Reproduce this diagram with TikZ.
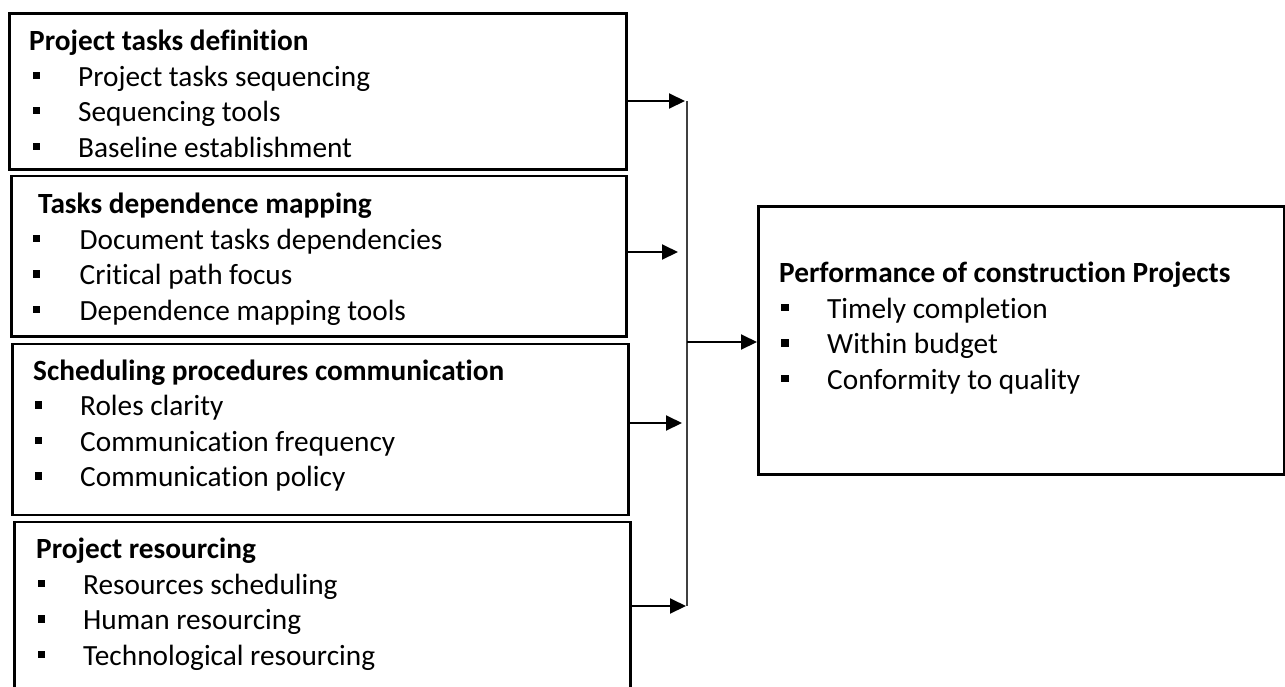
\documentclass[tikz,border=0pt]{standalone}
\usepackage{fontspec}
\setmainfont{Carlito}[Ligatures={NoCommon,NoContextual,NoRequired},RawFeature={-liga;-clig;-calt;-dlig}]
\usetikzlibrary{arrows.meta}
\begin{document}
\begin{tikzpicture}[x=1pt,y=-1pt,
  box/.style={draw=black, line width=2.6pt, anchor=north west, inner sep=0pt},
  hd/.style={anchor=base west, inner sep=0pt, font=\bfseries\fontsize{29.3}{34}\selectfont},
  itm/.style={anchor=base west, inner sep=0pt, font=\fontsize{29.3}{34}\selectfont},
  bul/.style={fill=black, inner sep=0pt, minimum size=7.5pt},
  arr/.style={line width=2pt, -{Triangle[length=16pt,width=15pt]}},
  bus/.style={line width=1.4pt, draw=black!75},
]
\clip (0,0) rectangle (1285,686);
% boxes
\node[box, minimum width=617pt, minimum height=156pt] (B1) at (8,12) {};
\node[box, minimum width=615pt, minimum height=160.5pt] (B2) at (10,174.5) {};
\node[box, minimum width=616pt, minimum height=171pt] (B3) at (11,342.5) {};
\node[box, minimum width=616pt, minimum height=200pt] (B4) at (13,520.5) {};
\node[box, minimum width=526pt, minimum height=268pt] (R) at (757,205) {};
% box 1
\node[hd] (H1) at (29,50) {Project tasks definition};
\node[bul] (b1a) at (36.5,75.5) {};
\node[itm] (I1a) at (78,86) {Project tasks sequencing};
\node[bul] (b1b) at (36.5,110.5) {};
\node[itm] (I1b) at (78,121) {Sequencing tools};
\node[bul] (b1c) at (36.5,146.5) {};
\node[itm] (I1c) at (78,157) {Baseline establishment};
% box 2
\node[hd] (H2) at (38,213) {Tasks dependence mapping};
\node[bul] (b2a) at (36.5,238.5) {};
\node[itm] (I2a) at (79.5,249) {Document tasks dependencies};
\node[bul] (b2b) at (36.5,274) {};
\node[itm] (I2b) at (79.5,284.5) {Critical path focus};
\node[bul] (b2c) at (36.5,309.5) {};
\node[itm] (I2c) at (79.5,320) {Dependence mapping tools};
% box 3
\node[hd] (H3) at (33,380) {Scheduling procedures communication};
\node[bul] (b3a) at (38.5,405) {};
\node[itm] (I3a) at (80,415.5) {Roles clarity};
\node[bul] (b3b) at (38.5,440.5) {};
\node[itm] (I3b) at (80,451) {Communication frequency};
\node[bul] (b3c) at (38.5,476) {};
\node[itm] (I3c) at (80,486.5) {Communication policy};
% box 4
\node[hd] (H4) at (36,558) {Project resourcing};
\node[bul] (b4a) at (41.5,583.5) {};
\node[itm] (I4a) at (83,594) {Resources scheduling};
\node[bul] (b4b) at (41.5,619) {};
\node[itm] (I4b) at (83,629.5) {Human resourcing};
\node[bul] (b4c) at (41.5,654.5) {};
\node[itm] (I4c) at (83,665) {Technological resourcing};
% right box
\node[hd] (HR) at (779,282) {Performance of construction Projects};
\node[bul] (bra) at (785,307.5) {};
\node[itm] (IRa) at (827,318) {Timely completion};
\node[bul] (brb) at (785,343) {};
\node[itm] (IRb) at (827,353.5) {Within budget};
\node[bul] (brc) at (785,378.5) {};
\node[itm] (IRc) at (827,389) {Conformity to quality};
% connectors
\coordinate (t1) at (685,101);
\coordinate (t2) at (678,252);
\coordinate (t3) at (682,423);
\coordinate (t4) at (686,606);
\coordinate (v1) at (687,101);
\coordinate (v4) at (687,606);
\coordinate (J) at (687,342);
\draw[arr] (B1.east |- t1) -- (t1);
\draw[arr] (B2.east |- t2) -- (t2);
\draw[arr] (B3.east |- t3) -- (t3);
\draw[arr] (B4.east |- t4) -- (t4);
\draw[bus] (v1) -- (v4);
\draw[arr] (J) -- (R.west |- J);
\end{tikzpicture}
\end{document}
